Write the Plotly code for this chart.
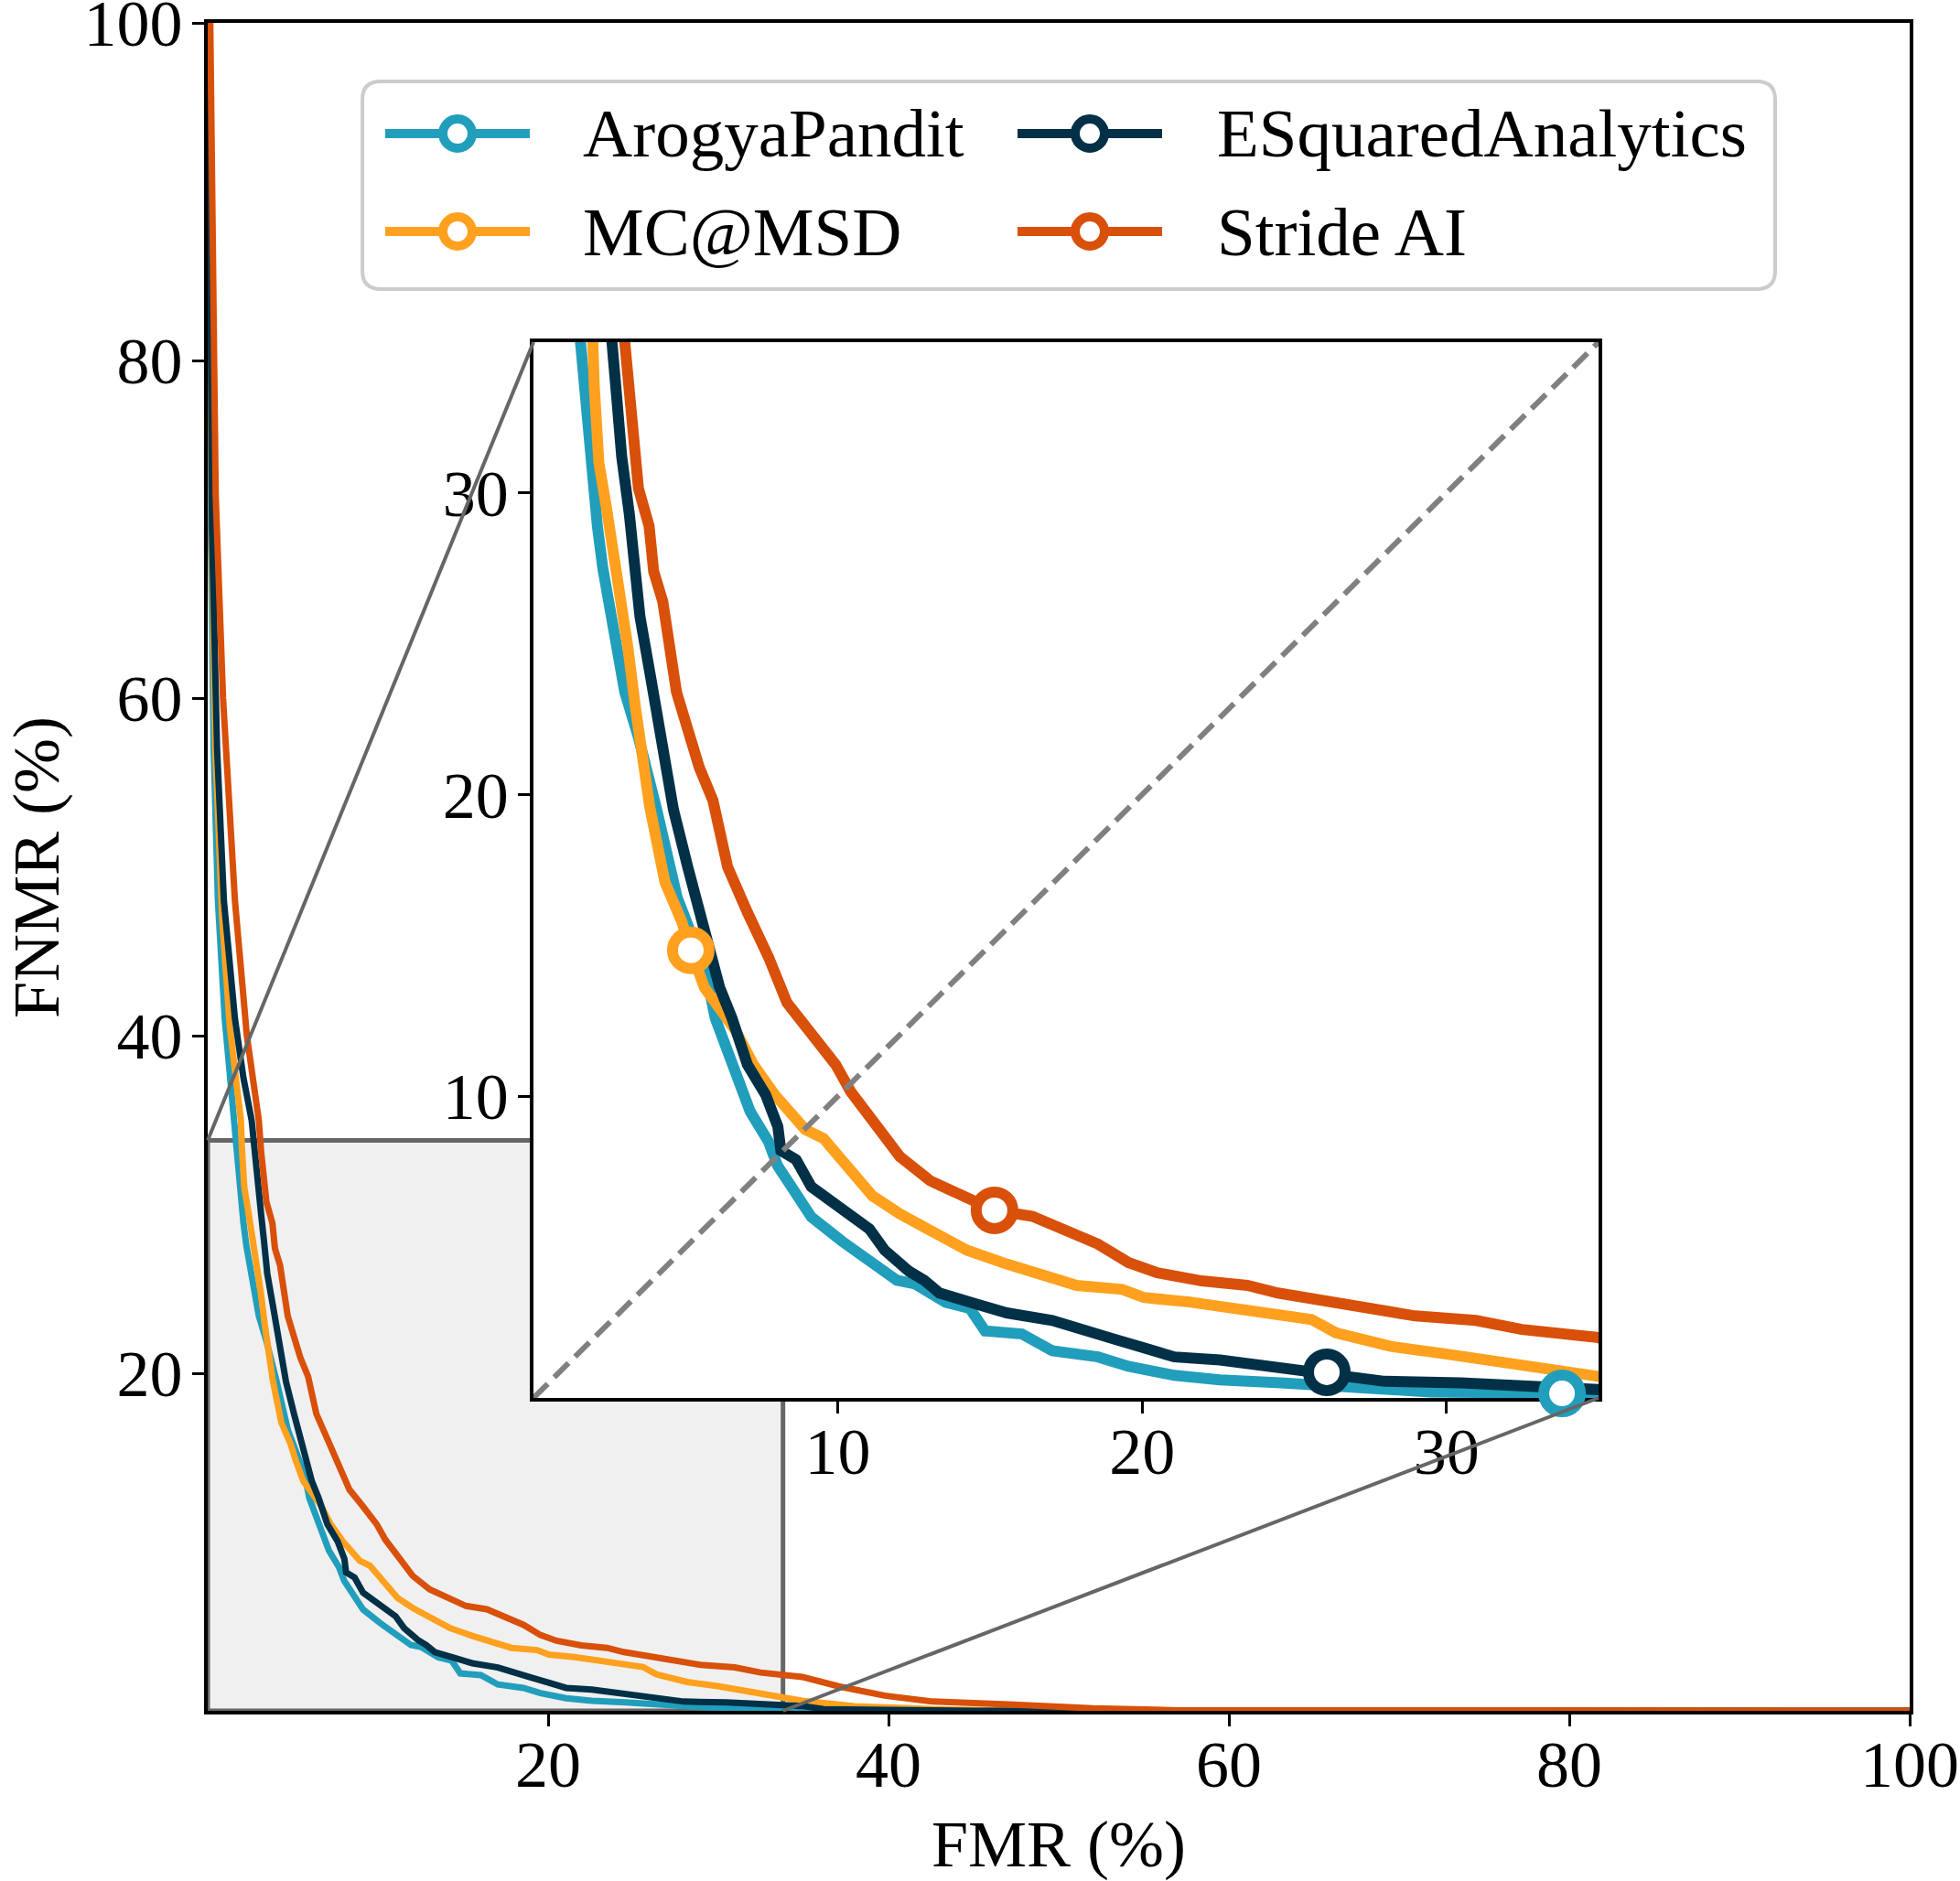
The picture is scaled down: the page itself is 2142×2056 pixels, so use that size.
import plotly.graph_objects as go

W, H = 2142, 2056
FONT = "Liberation Serif, Times New Roman, serif"

# ---------------- data ----------------
series_names = ["ArogyaPandit", "MC@MSD", "ESquaredAnalytics", "Stride AI"]
series_colors = ["#219EBC", "#FFA11E", "#023047", "#D8500A"]

arogya_fmr = [0.05, 0.1, 0.18, 0.35, 0.6, 1.0, 1.3, 1.58, 1.75, 1.92, 2.1, 2.28, 2.55, 2.75,
              3.0, 3.45, 3.9, 4.05, 4.72, 5.67, 5.97, 6.52, 7.12, 7.72, 8.02, 8.48, 9.13,
              10.13, 11.14, 11.94, 12.54, 13.54, 14.34, 14.84, 16.05, 17.05, 18.55, 19.55,
              21.06, 22.56, 24.56, 26.57, 29.47, 33.8, 35.0, 40.0, 50.0, 100.0]
arogya_fnmr = [100, 85, 70, 57, 48, 41, 37.5, 35, 32.0, 30.2, 28.9, 27.5, 25.9, 24.9,
               23.4, 21.9, 20.3, 19.5, 16.6, 14.1, 12.6, 11.05, 9.5, 8.5, 7.7, 7.0, 6.0,
               5.2, 4.5, 3.9, 3.78, 3.17, 2.97, 2.22, 2.12, 1.56, 1.36, 1.05,
               0.75, 0.6, 0.5, 0.4, 0.2, 0.15, 0.12, 0.05, 0.0, 0.0]

mcmsd_fmr = [0.1, 0.15, 0.22, 0.45, 0.85, 1.3, 1.7, 1.95, 2.0, 2.15, 2.4, 2.65, 2.9, 3.1,
             3.35, 3.55, 3.75, 3.82, 4.32, 4.87, 5.17, 5.62, 6.63, 7.23, 7.93, 8.93, 9.53,
             10.33, 11.14, 12.04, 13.44, 14.24, 15.55, 16.75, 17.85, 19.35, 20.05, 21.56,
             23.06, 24.56, 25.57, 26.37, 27.37, 28.17, 29.97, 31.97, 33.48, 34.93, 38.0,
             42.6, 48.0, 100.0]
mcmsd_fnmr = [100, 85, 70, 57, 47, 40.5, 37, 35, 33.5, 31, 29.5, 27.9, 26.4, 24.9,
              22.9, 21.4, 20.3, 19.6, 17.1, 15.8, 14.84, 13.6, 12.2, 11.05, 10.05, 8.9, 8.6,
              7.7, 6.7, 6.1, 5.4, 4.9, 4.44, 4.09, 3.73, 3.6, 3.33, 3.18,
              2.97, 2.82, 2.6, 2.16, 1.96, 1.71, 1.46, 1.15, 0.85, 0.6, 0.27,
              0.1, 0.0, 0.0]

esq_fmr = [0.08, 0.15, 0.25, 0.55, 0.95, 1.6, 2.1, 2.58, 2.75, 2.9, 3.15, 3.3, 3.5, 3.85,
           4.2, 4.45, 4.6, 5.07, 5.57, 6.12, 6.52, 7.03, 7.63, 8.03, 8.13, 8.63, 9.13,
           10.03, 11.04, 11.54, 12.34, 12.84, 13.34, 14.54, 15.55, 17.05, 18.05, 19.05,
           20.06, 21.06, 22.56, 24.06, 26.07, 27.97, 30.47, 32.48, 34.93, 36.2, 40.0,
           45.0, 100.0]
esq_fnmr = [100, 85, 70, 57, 48, 41, 37.5, 35, 33, 31.2, 29.3, 27.9, 25.9, 23.9,
            21.9, 20.3, 19.5, 17.6, 15.6, 13.6, 12.6, 11.05, 10.05, 9.0, 8.2, 7.9, 7.0,
            6.3, 5.6, 4.9, 4.2, 3.9, 3.48, 3.12, 2.82, 2.57, 2.22, 1.96,
            1.66, 1.36, 1.26, 1.05, 0.85, 0.55, 0.5, 0.39, 0.29, 0.1, 0.03,
            0.0, 0.0]

stride_fmr = [0.15, 0.3, 0.47, 0.9, 1.6, 2.3, 2.7, 3.0, 3.15, 3.45, 3.8, 3.95, 4.25, 4.5,
              4.7, 5.15, 5.45, 5.9, 6.05, 6.38, 7.03, 7.73, 8.33, 9.13, 9.93, 10.43, 11.24,
              12.04, 13.04, 14.04, 15.15, 16.4, 17.35, 18.55, 19.55, 20.5, 21.96, 23.46,
              24.46, 25.96, 27.47, 28.97, 30.97, 32.48, 34.93, 37.08, 39.77, 42.6, 47.4,
              52.0, 57.0, 100.0]
stride_fnmr = [100, 85, 72, 60, 48, 40, 37, 35, 33, 30.15, 28.9, 27.4, 26.4, 24.9,
               23.4, 21.9, 20.9, 19.8, 19.2, 17.6, 16.1, 14.6, 13.1, 12.1, 11.05, 10.15, 9.1,
               8.0, 7.2, 6.7, 6.22, 6.02, 5.6, 5.1, 4.49, 4.15, 3.88, 3.73,
               3.48, 3.23, 2.97, 2.72, 2.57, 2.27, 2.01, 1.45, 0.9, 0.55, 0.37,
               0.15, 0.03, 0.0]

# operating points (circle markers in the inset)
op_fmr = [33.8, 5.17, 26.07, 15.15]
op_fnmr = [0.15, 14.84, 0.85, 6.22]

main_ticks = [20, 40, 60, 80, 100]
inset_ticks = [10, 20, 30]
main_range = [0, 100]
inset_range = [0, 35]
zoom_extent = 33.8
x_title = "FMR (%)"
y_title = "FNMR (%)"

series_fmr = [arogya_fmr, mcmsd_fmr, esq_fmr, stride_fmr]
series_fnmr = [arogya_fnmr, mcmsd_fnmr, esq_fnmr, stride_fnmr]

# ---------------- layout geometry (pixels) ----------------
def px_x(p):
    return p / W


def px_y(p):
    return 1 - p / H


MAIN_L, MAIN_R, MAIN_T, MAIN_B = 227, 2087, 25, 1870
INS_L, INS_R, INS_T, INS_B = 583, 1747, 374, 1528


def main_to_paper(x, y):
    fx = MAIN_L + (x - main_range[0]) / (main_range[1] - main_range[0]) * (MAIN_R - MAIN_L)
    fy = MAIN_B - (y - main_range[0]) / (main_range[1] - main_range[0]) * (MAIN_B - MAIN_T)
    return px_x(fx), px_y(fy)


fig = go.Figure()

# main curves
for name, col, xs, ys in zip(series_names, series_colors, series_fmr, series_fnmr):
    fig.add_trace(go.Scatter(x=xs, y=ys, mode="lines", name=name,
                             line=dict(color=col, width=7), showlegend=False,
                             xaxis="x", yaxis="y", hoverinfo="skip"))

# inset curves
for name, col, xs, ys in zip(series_names, series_colors, series_fmr, series_fnmr):
    fig.add_trace(go.Scatter(x=xs, y=ys, mode="lines", name=name,
                             line=dict(color=col, width=12), showlegend=False,
                             xaxis="x2", yaxis="y2", hoverinfo="skip"))

# inset operating-point markers
for name, col, x, y in zip(series_names, series_colors, op_fmr, op_fnmr):
    fig.add_trace(go.Scatter(x=[x], y=[y], mode="markers", name=name,
                             marker=dict(symbol="circle", size=40, color="white",
                                         line=dict(color=col, width=12)),
                             cliponaxis=False, showlegend=False,
                             xaxis="x2", yaxis="y2", hoverinfo="skip"))

tickfont = dict(family=FONT, size=72, color="black")
axis_common = dict(showgrid=False, zeroline=False, showline=True, linecolor="black",
                   mirror=True, ticks="outside", ticklen=13, tickwidth=3,
                   tickcolor="black", tickfont=tickfont, automargin=False,
                   ticklabeloverflow="allow")

shapes = []
# zoom region on main axes
shapes.append(dict(type="rect", xref="x", yref="y", x0=0, y0=0, x1=zoom_extent, y1=zoom_extent,
                   fillcolor="#F0F0F0", line=dict(color="#666666", width=5), layer="below"))
# connectors
c1 = main_to_paper(0, zoom_extent)
c2 = main_to_paper(zoom_extent, 0)
shapes.append(dict(type="line", xref="paper", yref="paper", x0=c1[0], y0=c1[1],
                   x1=px_x(INS_L), y1=px_y(INS_T), line=dict(color="#666666", width=4),
                   layer="above"))
shapes.append(dict(type="line", xref="paper", yref="paper", x0=c2[0], y0=c2[1],
                   x1=px_x(INS_R), y1=px_y(INS_B), line=dict(color="#666666", width=4),
                   layer="above"))
# diagonal in inset
shapes.append(dict(type="line", xref="x2", yref="y2", x0=inset_range[0], y0=inset_range[0],
                   x1=inset_range[1], y1=inset_range[1],
                   line=dict(color="#808080", width=6, dash="22px,10px"), layer="above"))

# ---------------- custom legend ----------------
LG_L, LG_T, LG_R, LG_B, LG_RAD = 396, 89, 1940, 316, 20


def rounded_path(x0, y0, x1, y1, r):
    def P(x, y):
        return f"{px_x(x):.6f},{px_y(y):.6f}"
    pts = [f"M{P(x0 + r, y0)}", f"L{P(x1 - r, y0)}", f"Q{P(x1, y0)} {P(x1, y0 + r)}",
           f"L{P(x1, y1 - r)}", f"Q{P(x1, y1)} {P(x1 - r, y1)}", f"L{P(x0 + r, y1)}",
           f"Q{P(x0, y1)} {P(x0, y1 - r)}", f"L{P(x0, y0 + r)}", f"Q{P(x0, y0)} {P(x0 + r, y0)}",
           "Z"]
    return " ".join(pts)


shapes.append(dict(type="path", xref="paper", yref="paper",
                   path=rounded_path(LG_L, LG_T, LG_R, LG_B, LG_RAD),
                   fillcolor="white", line=dict(color="#CCCCCC", width=4), layer="above"))

# legend slots: (line x0, line x1, marker cx, text x, row y)
legend_slots = [
    (421, 579, 500, 635, 146),      # ArogyaPandit
    (421, 579, 500, 635, 253),      # MC@MSD
    (1112, 1270, 1191, 1328, 146),  # ESquaredAnalytics
    (1112, 1270, 1191, 1328, 253),  # Stride AI
]
annotations = []
R_LEG = 16
for name, col, (lx0, lx1, mcx, tx, ry) in zip(series_names, series_colors, legend_slots):
    shapes.append(dict(type="line", xref="paper", yref="paper", x0=px_x(lx0), y0=px_y(ry),
                       x1=px_x(lx1), y1=px_y(ry), line=dict(color=col, width=10), layer="above"))
    shapes.append(dict(type="circle", xref="paper", yref="paper",
                       x0=px_x(mcx - R_LEG), x1=px_x(mcx + R_LEG),
                       y0=px_y(ry + R_LEG), y1=px_y(ry - R_LEG),
                       fillcolor="white", line=dict(color=col, width=10), layer="above"))
    annotations.append(dict(text=name, xref="paper", yref="paper", x=px_x(tx), y=px_y(ry),
                            xanchor="left", yanchor="middle", showarrow=False,
                            font=dict(family=FONT, size=75, color="black")))

# y-axis title (placed as rotated text to match the reference position)
annotations.append(dict(text=y_title, xref="paper", yref="paper", x=px_x(40), y=px_y(948),
                        xanchor="center", yanchor="middle", textangle=-90, showarrow=False,
                        font=dict(family=FONT, size=72, color="black")))

fig.update_layout(
    template="none",
    width=W, height=H, autosize=False,
    margin=dict(l=0, r=0, t=0, b=0, pad=0),
    paper_bgcolor="white", plot_bgcolor="white",
    font=dict(family=FONT, size=72, color="black"),
    showlegend=False,
    xaxis=dict(domain=[px_x(MAIN_L), px_x(MAIN_R)], range=main_range, anchor="y",
               tickvals=main_ticks, linewidth=4, ticklabelstandoff=-20,
               title=dict(text=x_title, font=dict(family=FONT, size=72)),
               **axis_common),
    yaxis=dict(domain=[px_y(MAIN_B), px_y(MAIN_T)], range=main_range, anchor="x",
               tickvals=main_ticks, linewidth=4, ticklabelstandoff=-4,
               **axis_common),
    xaxis2=dict(domain=[px_x(INS_L), px_x(INS_R)], range=inset_range, anchor="y2",
                tickvals=inset_ticks, linewidth=3.5, layer="below traces",
                ticklabelstandoff=-20, **axis_common),
    yaxis2=dict(domain=[px_y(INS_B), px_y(INS_T)], range=inset_range, anchor="x2",
                tickvals=inset_ticks, linewidth=3.5, layer="below traces",
                ticklabelstandoff=-4, **axis_common),
    shapes=shapes,
    annotations=annotations,
)

fig.write_html("out.html")
